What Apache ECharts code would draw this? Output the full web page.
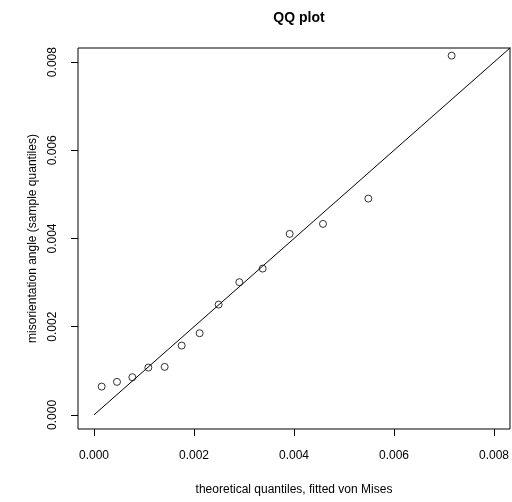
<!DOCTYPE html>
<html>
<head>
<meta charset="utf-8">
<script src="https://cdn.jsdelivr.net/npm/echarts@6/dist/echarts.min.js"></script>
<style>
  html, body { margin: 0; padding: 0; background: #fff; }
  #chart { width: 512px; height: 502px; }
</style>
</head>
<body>
<div id="chart"></div>
<script>
// theoretical quantiles (fitted von Mises) vs sample quantiles
var theoretical = [0.000153, 0.00046, 0.000767, 0.001087, 0.001413, 0.001753, 0.002113,
                   0.002493, 0.002907, 0.003373, 0.003913, 0.00458, 0.005487, 0.007153];
var sample = [0.000642, 0.000748, 0.000854, 0.001073, 0.001088, 0.001572, 0.001852,
              0.002502, 0.003009, 0.003318, 0.004104, 0.004331, 0.004905, 0.008147];
var tickValues = [0, 0.002, 0.004, 0.006, 0.008];
var refLine = [[0, 0], [0.01, 0.01]];   // y = x

var points = theoretical.map(function (x, i) { return [x, sample[i]]; });

var chart = echarts.init(document.getElementById('chart'));
var font = 'Liberation Sans, Arial, sans-serif';

function axisCfg(name, gap, rot, margin) {
   return {
      type: 'value',
      min: -0.00032,
      max: 0.00832,
      name: name,
      nameLocation: 'middle',
      nameGap: gap,
      nameTextStyle: { color: '#000', fontSize: 12, fontFamily: font },
      splitLine: { show: false },
      axisLine: { show: false, onZero: false },
      axisTick: { show: true, length: 7, lineStyle: { color: '#000' }, customValues: tickValues },
      axisLabel: {
         color: '#000', fontSize: 12, fontFamily: font, margin: margin, rotate: rot,
         customValues: tickValues,
         formatter: function (v) { return v.toFixed(3); }
      }
   };
}

chart.setOption({
   animation: false,
   title: {
      text: 'QQ plot',
      left: 294,
      top: 6,
      textAlign: 'center',
      textStyle: { fontSize: 14, fontWeight: 'bold', color: '#000', fontFamily: font }
   },
   grid: {
      left: 78, right: 2, top: 48, bottom: 73,
      show: true, borderColor: '#000', borderWidth: 1
   },
   xAxis: axisCfg('theoretical quantiles, fitted von Mises', 55, 0, 21),
   yAxis: axisCfg('misorientation angle (sample quantiles)', 38, 90, 19),
   series: [
      {
         type: 'line',
         data: refLine,
         symbol: 'none',
         clip: true,
         lineStyle: { color: '#000', width: 1 }
      },
      {
         type: 'scatter',
         data: points,
         symbol: 'circle',
         symbolSize: 7,
         itemStyle: { color: 'rgba(0,0,0,0)', borderColor: '#000', borderWidth: 1 }
      }
   ]
});
</script>
</body>
</html>
